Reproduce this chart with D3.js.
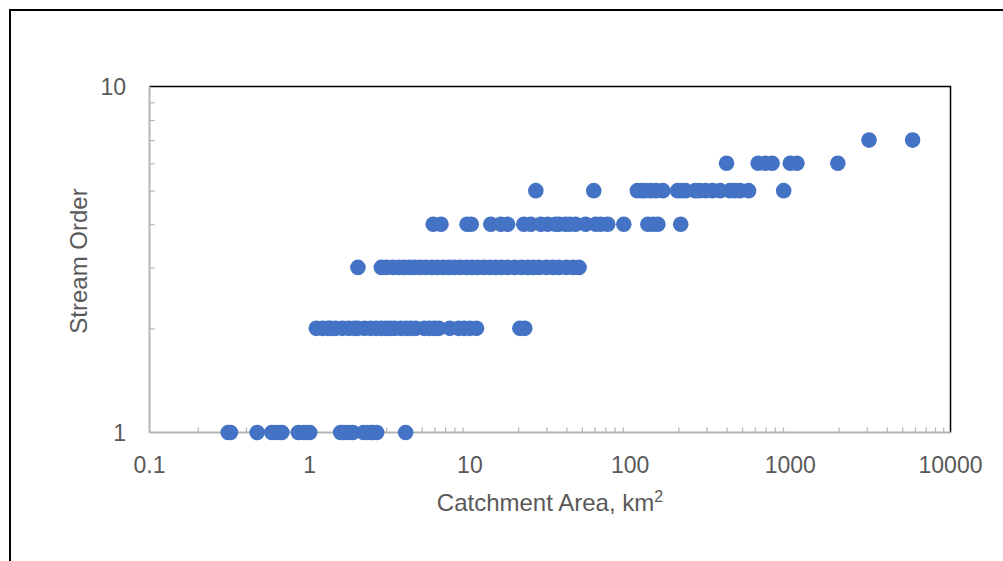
<!DOCTYPE html>
<html>
<head>
<meta charset="utf-8">
<script src="https://cdn.jsdelivr.net/npm/d3@7"></script>
<style>
  body { margin: 0; background: #fff; }
  text { font-family: "Liberation Sans", Arial, sans-serif; fill: #595959; }
</style>
</head>
<body>
<svg id="chart" width="1003" height="561"></svg>
<script>
// catchment areas (km2), grouped by stream order
const order1 = [0.31, 0.32, 0.47, 0.58, 0.61, 0.65, 0.67, 0.85, 0.92, 0.96, 1.0,
  1.56, 1.6, 1.68, 1.75, 1.86, 2.17, 2.3, 2.44, 2.5, 2.62, 3.97];
const order2 = [1.1, 1.2, 1.3, 1.35, 1.45, 1.6, 1.75, 1.9, 2.0, 2.2, 2.4, 2.6, 2.8, 3.0,
  3.2, 3.4, 3.7, 4.0, 4.3, 4.6, 5.2, 5.6, 6.0, 6.4, 7.5, 8.5, 9.2, 10.0, 11.0, 20.5, 22.0];
const order3 = [2.0, 2.8, 3.0, 3.3, 3.6, 3.9, 4.2, 4.5, 4.9, 5.3, 5.8, 6.3, 6.8, 7.4, 8.0,
  8.7, 9.5, 10.3, 11.2, 12.2, 13.3, 14.5, 15.8, 17.2, 19, 21, 23, 25, 27, 30, 33, 36, 40, 44, 48];
const order4 = [5.9, 6.6, 9.6, 10.2, 13.5, 15.6, 17.2, 21.7, 24.0, 27.7, 30.6, 34.3, 36,
  39.6, 42, 45.7, 52.8, 61, 65.6, 72.5, 91.3, 129, 139, 149, 207];
const order5 = [25.8, 59.3, 111, 118, 124, 135, 145, 160, 198, 210, 222, 255, 270, 295,
  327, 365, 420, 450, 485, 549, 909];
const order6 = [400, 630, 700, 770, 1000, 1100, 1980];
const order7 = [3100, 5800];

const streamOrders = [1, 2, 3, 4, 5, 6, 7];
const areasByOrder = [order1, order2, order3, order4, order5, order6, order7];

const xTickValues = [0.1, 1, 10, 100, 1000, 10000];
const yTickValues = [1, 10];

const svg = d3.select("#chart");
const W = 1003, H = 561;
const plot = { left: 149.5, right: 950.5, top: 86.5, bottom: 432.5 };

// outer chart frame (cropped on the right and bottom)
svg.append("path")
  .attr("d", `M10,${H + 2}V10H${W + 2}`)
  .attr("fill", "none").attr("stroke", "#000").attr("stroke-width", 2);

const x = d3.scaleLog().domain([0.1, 10000]).range([plot.left, plot.right]);
const y = d3.scaleLog().domain([1, 10]).range([plot.bottom, plot.top]);

// plot area border (top/right black)
svg.append("path")
  .attr("d", `M${plot.left},${plot.top}H${plot.right}V${plot.bottom}`)
  .attr("fill", "none").attr("stroke", "#000").attr("stroke-width", 1.5);

// minor ticks
const xMinor = [];
[0.1, 1, 10, 100, 1000].forEach(d => { for (let k = 2; k <= 9; k++) xMinor.push(+(d * k).toPrecision(3)); });
const yMinor = [2, 3, 4, 5, 6, 7, 8, 9];

const xAxis = d3.axisTop(x).tickValues(xMinor).tickSize(5).tickFormat("");
const gxm = svg.append("g").attr("transform", `translate(0,${plot.bottom})`).call(xAxis);
gxm.select(".domain").remove();
gxm.selectAll("line").attr("stroke", "#b4b4b4").attr("stroke-width", 1.2);

const yAxis = d3.axisRight(y).tickValues(yMinor).tickSize(5).tickFormat("");
const gym = svg.append("g").attr("transform", `translate(${plot.left},0)`).call(yAxis);
gym.select(".domain").remove();
gym.selectAll("line").attr("stroke", "#b4b4b4").attr("stroke-width", 1.2);

// axis lines
svg.append("line").attr("x1", plot.left).attr("x2", plot.right)
  .attr("y1", plot.bottom).attr("y2", plot.bottom)
  .attr("stroke", "#b4b4b4").attr("stroke-width", 2);
svg.append("line").attr("x1", plot.left).attr("x2", plot.left)
  .attr("y1", plot.top).attr("y2", plot.bottom)
  .attr("stroke", "#b4b4b4").attr("stroke-width", 2);

// tick labels
svg.append("g").selectAll("text").data(xTickValues).join("text")
  .attr("x", d => x(d)).attr("y", 473)
  .attr("text-anchor", "middle").attr("font-size", 23)
  .text(d => String(d));
svg.append("g").selectAll("text").data(yTickValues).join("text")
  .attr("x", 126).attr("y", d => y(d) + 8)
  .attr("text-anchor", "end").attr("font-size", 23)
  .text(d => String(d));

// axis titles
const xt = svg.append("text").attr("x", 550).attr("y", 511)
  .attr("text-anchor", "middle").attr("font-size", 24);
xt.append("tspan").text("Catchment Area, km");
xt.append("tspan").attr("dy", -9).attr("font-size", 16).text("2");

svg.append("text")
  .attr("transform", "translate(87,261) rotate(-90)")
  .attr("text-anchor", "middle").attr("font-size", 24)
  .text("Stream Order");

// points
const points = [];
areasByOrder.forEach((arr, i) => arr.forEach(a => points.push({ area: a, order: streamOrders[i] })));
svg.append("g").selectAll("circle").data(points).join("circle")
  .attr("cx", d => x(d.area))
  .attr("cy", d => y(d.order))
  .attr("r", 7.8)
  .attr("fill", "#4472C4");
</script>
</body>
</html>
